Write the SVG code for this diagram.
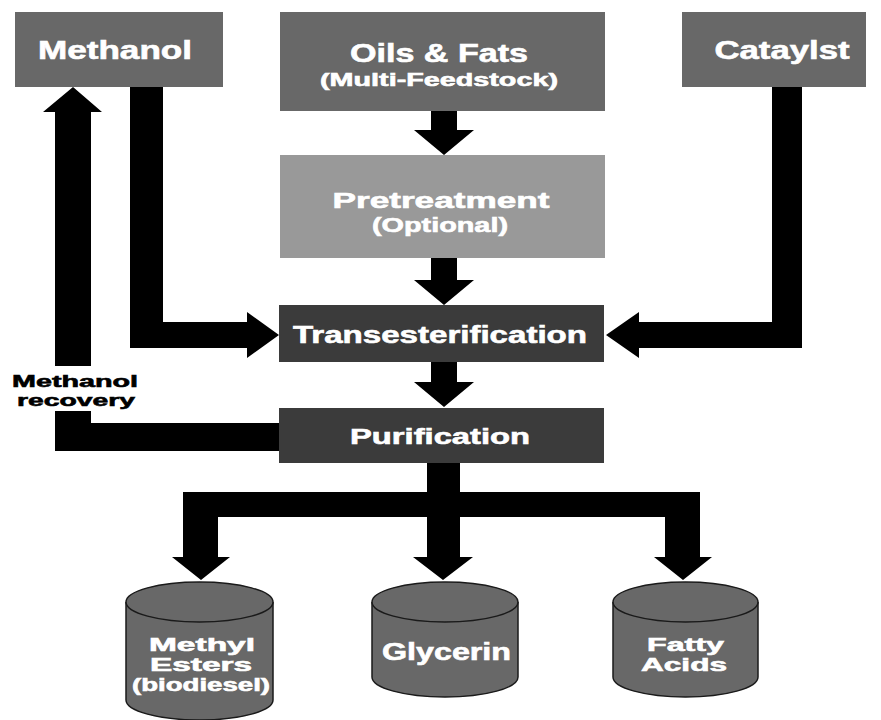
<svg xmlns="http://www.w3.org/2000/svg" width="881" height="720" viewBox="0 0 881 720">
<style>
.box{fill:#686868}
.light{fill:#999999}
.dark{fill:#3b3b3b}
.cyl{fill:#686868;stroke:#1a1a1a;stroke-width:1.5}
.t{font-family:"Liberation Sans",Arial,sans-serif;font-weight:bold;fill:#ffffff;stroke:#ffffff;stroke-width:0.6;text-anchor:middle}
.lbl{font-family:"Liberation Sans",Arial,sans-serif;font-weight:bold;fill:#000000;stroke:#000000;stroke-width:0.6;text-anchor:middle}
.c{fill:#000000}
</style>
<rect width="881" height="720" fill="#ffffff"/>
<g id="connectors">
  <polygon class="c" points="431,111 457,111 457,130 474,130 444,155 414,130 431,130"/>
  <polygon class="c" points="431,258 457,258 457,280 474,280 444,305 414,280 431,280"/>
  <polygon class="c" points="431,362 457,362 457,382 474,382 444,407 414,382 431,382"/>
  <polygon class="c" points="130,87 163,87 163,322 247,322 247,312 279,335 247,358 247,348 130,348"/>
  <polygon class="c" points="772,87 802,87 802,348 639,348 639,358 606,335 639,312 639,322 772,322"/>
  <polygon class="c" points="55,366 91,366 91,112 102,112 73,87 43,112 55,112"/>
  <polygon class="c" points="280,423 91,423 91,411 55,411 55,451 280,451"/>
  <polygon class="c" points="427,463 460,463 460,557 473,557 443,580 413,557 427,557"/>
  <rect class="c" x="183" y="492" width="517" height="25"/>
  <polygon class="c" points="183,492 218,492 218,557 230,557 201,580 172,557 183,557"/>
  <polygon class="c" points="665,492 700,492 700,557 712,557 683,580 654,557 665,557"/>
  <text class="lbl" font-size="16.5"><tspan x="75" y="387" textLength="126" lengthAdjust="spacingAndGlyphs">Methanol</tspan><tspan x="76" y="406" textLength="118" lengthAdjust="spacingAndGlyphs">recovery</tspan></text>
</g>
<g id="methanol">
  <rect class="box" x="15" y="12" width="208" height="75"/>
  <text class="t" x="115" y="59" font-size="25" textLength="154" lengthAdjust="spacingAndGlyphs">Methanol</text>
</g>
<g id="oils">
  <rect class="box" x="280" y="12" width="325" height="99"/>
  <text class="t" x="439" y="62" font-size="25" textLength="178" lengthAdjust="spacingAndGlyphs">Oils &amp; Fats</text>
  <text class="t" x="439" y="86" font-size="18" textLength="238" lengthAdjust="spacingAndGlyphs">(Multi-Feedstock)</text>
</g>
<g id="catalyst">
  <rect class="box" x="682" y="12" width="184" height="75"/>
  <text class="t" x="782" y="59" font-size="25" textLength="135" lengthAdjust="spacingAndGlyphs">Cataylst</text>
</g>
<g id="pretreatment">
  <rect class="light" x="280" y="155" width="325" height="103"/>
  <text class="t" x="441" y="208" font-size="22" textLength="217" lengthAdjust="spacingAndGlyphs">Pretreatment</text>
  <text class="t" x="440" y="232" font-size="20" textLength="136" lengthAdjust="spacingAndGlyphs">(Optional)</text>
</g>
<g id="transesterification">
  <rect class="dark" x="279" y="305" width="325" height="57"/>
  <text class="t" x="440" y="343" font-size="23" textLength="294" lengthAdjust="spacingAndGlyphs">Transesterification</text>
</g>
<g id="purification">
  <rect class="dark" x="279" y="408" width="325" height="55"/>
  <text class="t" x="440" y="444" font-size="22" textLength="180" lengthAdjust="spacingAndGlyphs">Purification</text>
</g>
<g id="methyl-esters">
  <path class="cyl" d="M126,602 L126,700 A73.5,20 0 0 0 273,700 L273,602"/>
  <ellipse class="cyl" cx="199.5" cy="602" rx="73.5" ry="20"/>
  <text class="t" font-size="17.5"><tspan x="202" y="651" textLength="106" lengthAdjust="spacingAndGlyphs">Methyl</tspan><tspan x="201" y="671" textLength="102" lengthAdjust="spacingAndGlyphs">Esters</tspan><tspan x="201" y="691" textLength="138" lengthAdjust="spacingAndGlyphs">(biodiesel)</tspan></text>
</g>
<g id="glycerin">
  <path class="cyl" d="M372,602 L372,677 A73,20 0 0 0 518,677 L518,602"/>
  <ellipse class="cyl" cx="445" cy="602" rx="73" ry="20"/>
  <text class="t" x="446.5" y="660" font-size="23" textLength="129" lengthAdjust="spacingAndGlyphs">Glycerin</text>
</g>
<g id="fatty-acids">
  <path class="cyl" d="M613,602 L613,677 A72.5,20 0 0 0 758,677 L758,602"/>
  <ellipse class="cyl" cx="685.5" cy="602" rx="72.5" ry="20"/>
  <text class="t" font-size="17.5"><tspan x="685.5" y="651" textLength="77" lengthAdjust="spacingAndGlyphs">Fatty</tspan><tspan x="684" y="671" textLength="86" lengthAdjust="spacingAndGlyphs">Acids</tspan></text>
</g>
</svg>
